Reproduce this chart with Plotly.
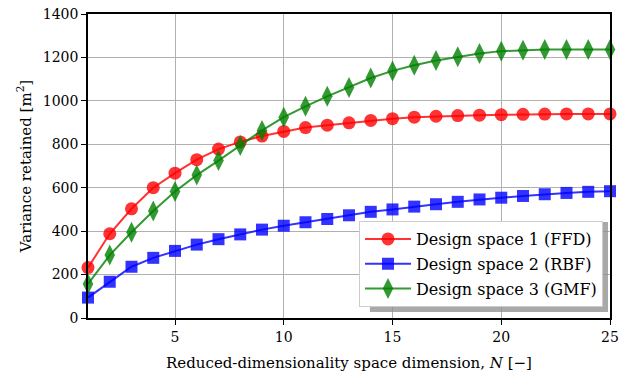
import plotly.graph_objects as go

# Reduced-dimensionality space dimension N
N = list(range(1, 26))

# Variance retained [m^2] for each design space
ffd = [232, 388, 503, 600, 667, 729, 778, 811, 838, 859, 877, 888, 899, 910,
       918, 925, 929, 932, 934, 936, 938, 939, 940, 940, 940]
rbf = [94, 167, 236, 277, 309, 338, 363, 385, 407, 425, 441, 456, 473, 489,
       500, 513, 524, 535, 546, 554, 562, 570, 576, 581, 584]
gmf = [157, 290, 395, 493, 583, 658, 725, 794, 864, 925, 975, 1021, 1062,
       1105, 1138, 1164, 1186, 1203, 1218, 1229, 1233, 1236, 1237, 1237, 1237]

series_names = ["Design space 1 (FFD)", "Design space 2 (RBF)", "Design space 3 (GMF)"]
x_ticks = [5, 10, 15, 20, 25]
y_ticks = [0, 200, 400, 600, 800, 1000, 1200, 1400]

FONT = "DejaVu Serif"

fig = go.Figure()
styles = [
    (ffd, "rgba(255,0,0,0.8)", "circle", 13),
    (rbf, "rgba(0,0,255,0.8)", "square", 12),
    (gmf, "rgba(0,128,0,0.8)", "diamond-tall", 15),
]
for i, ((vals, col, sym, size), name) in enumerate(zip(styles, series_names)):
    fig.add_trace(go.Scatter(
        x=N, y=vals, name=name, mode="lines+markers",
        legendgroup=f"g{i}",
        line=dict(color=col, width=2),
        marker=dict(symbol=sym, size=size, color=col, line=dict(width=0)),
        cliponaxis=False,
    ))

# soft drop shadow behind the legend box
fig.add_shape(type="rect", xref="paper", yref="paper",
              x0=0.54, x1=0.9962, y0=0.020, y1=0.316,
              fillcolor="rgba(140,140,140,0.75)", line=dict(width=0), layer="above")

fig.update_layout(
    width=641, height=374,
    margin=dict(l=88, r=31, t=14, b=56, autoexpand=False),
    paper_bgcolor="white", plot_bgcolor="white",
    font=dict(family=FONT, size=14, color="black"),
    showlegend=True,
    legend=dict(x=0.9866, y=0.036, xanchor="right", yanchor="bottom",
                bgcolor="white", bordercolor="#cccccc", borderwidth=1,
                font=dict(family=FONT, size=16), itemwidth=46,
                traceorder="grouped", tracegroupgap=1),
    xaxis=dict(range=[1, 25], tickvals=x_ticks, ticks="outside", ticklen=5,
               tickwidth=1, tickcolor="black", showline=True, linecolor="black",
               linewidth=1.5, mirror=True, showgrid=True, gridcolor="#b0b0b0",
               gridwidth=1, zeroline=False, automargin=False,
               title=dict(text="Reduced-dimensionality space dimension, <i>N</i> [−]",
                          font=dict(family=FONT, size=15), standoff=14),
               tickfont=dict(family=FONT, size=14)),
    yaxis=dict(range=[0, 1400], tickvals=y_ticks, ticks="outside", ticklen=5,
               tickwidth=1, tickcolor="black", showline=True, linecolor="black",
               linewidth=1.5, mirror=True, showgrid=True, gridcolor="#b0b0b0",
               gridwidth=1, zeroline=False, automargin=False,
               title=dict(text="Variance retained [m<sup>2</sup>]",
                          font=dict(family=FONT, size=15), standoff=8),
               tickfont=dict(family=FONT, size=14)),
)

fig.write_html("out.html")
